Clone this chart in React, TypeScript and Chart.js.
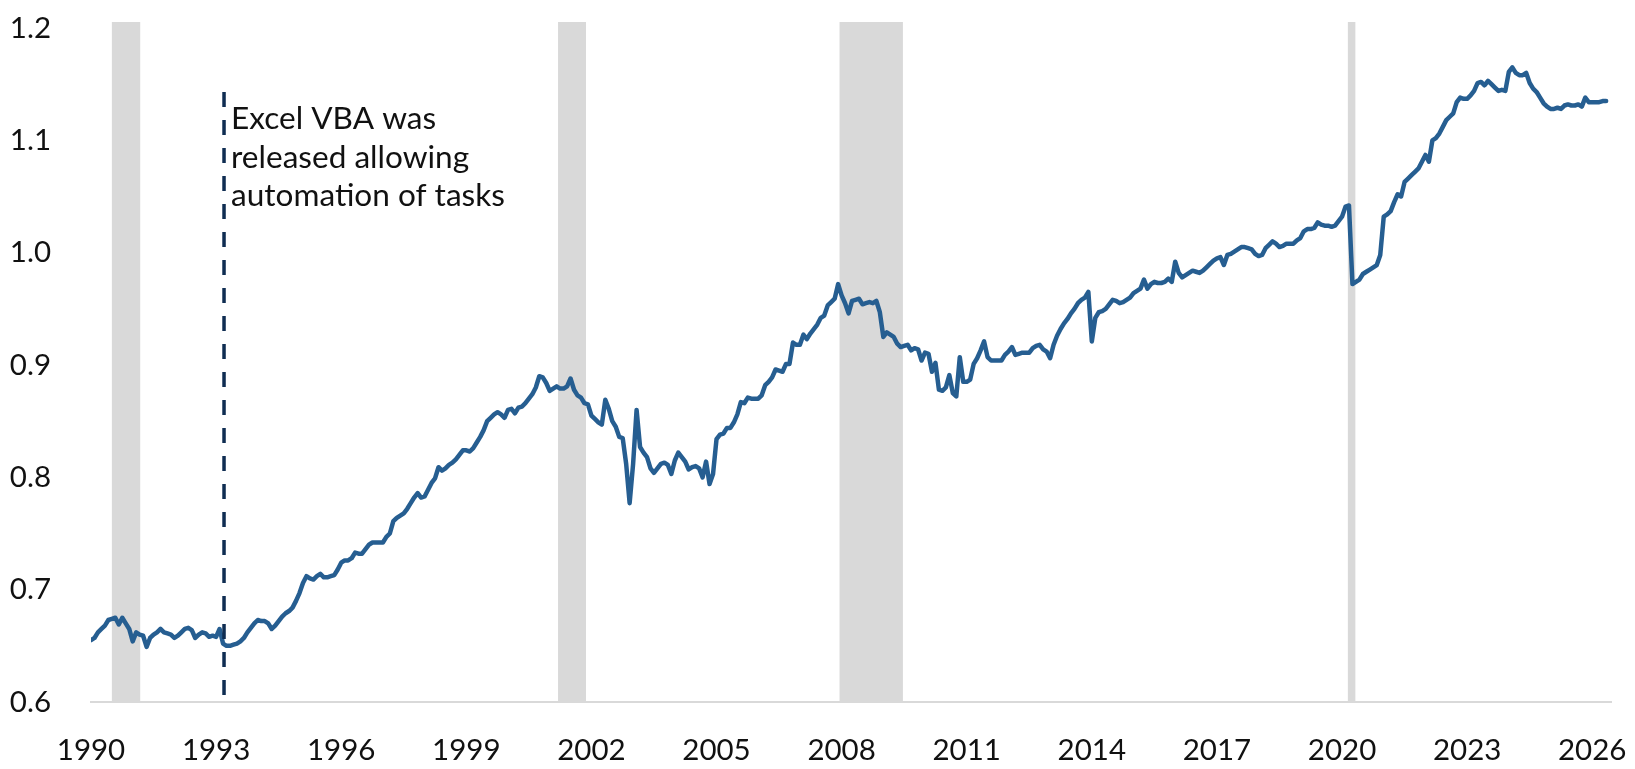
import React, { useEffect, useRef } from "react";
import { Chart, registerables } from "chart.js";

Chart.register(...registerables);

// ---- Data (monthly, Jan of startYear onward) ----
const startYear = 1990;
const v1990 = [0.655, 0.657, 0.662, 0.665, 0.668, 0.673, 0.674, 0.675, 0.669, 0.675, 0.670, 0.665];
const v1991 = [0.654, 0.662, 0.660, 0.659, 0.649, 0.657, 0.660, 0.662, 0.665, 0.662, 0.661, 0.660];
const v1992 = [0.657, 0.659, 0.662, 0.665, 0.666, 0.664, 0.657, 0.660, 0.662, 0.661, 0.658, 0.659];
const v1993 = [0.658, 0.665, 0.652, 0.650, 0.650, 0.651, 0.652, 0.654, 0.657, 0.662, 0.666, 0.670];
const v1994 = [0.673, 0.672, 0.672, 0.670, 0.665, 0.668, 0.672, 0.676, 0.679, 0.681, 0.684, 0.690];
const v1995 = [0.697, 0.706, 0.712, 0.710, 0.709, 0.712, 0.714, 0.711, 0.711, 0.712, 0.713, 0.718];
const v1996 = [0.724, 0.726, 0.726, 0.728, 0.733, 0.732, 0.732, 0.736, 0.740, 0.742, 0.742, 0.742];
const v1997 = [0.742, 0.747, 0.750, 0.761, 0.764, 0.766, 0.768, 0.772, 0.777, 0.782, 0.786, 0.782];
const v1998 = [0.783, 0.789, 0.795, 0.799, 0.809, 0.806, 0.808, 0.811, 0.813, 0.816, 0.820, 0.824];
const v1999 = [0.824, 0.823, 0.826, 0.831, 0.836, 0.842, 0.850, 0.853, 0.856, 0.858, 0.856, 0.853];
const v2000 = [0.860, 0.861, 0.857, 0.862, 0.863, 0.866, 0.870, 0.874, 0.880, 0.890, 0.889, 0.884];
const v2001 = [0.877, 0.879, 0.881, 0.879, 0.879, 0.881, 0.888, 0.878, 0.873, 0.871, 0.866, 0.865];
const v2002 = [0.855, 0.852, 0.849, 0.847, 0.869, 0.861, 0.850, 0.845, 0.836, 0.835, 0.812, 0.777];
const v2003 = [0.812, 0.860, 0.827, 0.822, 0.818, 0.808, 0.804, 0.808, 0.812, 0.813, 0.811, 0.803];
const v2004 = [0.815, 0.822, 0.818, 0.814, 0.807, 0.809, 0.810, 0.808, 0.800, 0.814, 0.794, 0.803];
const v2005 = [0.834, 0.838, 0.839, 0.844, 0.844, 0.849, 0.856, 0.867, 0.866, 0.871, 0.870, 0.870];
const v2006 = [0.870, 0.873, 0.882, 0.885, 0.889, 0.896, 0.895, 0.894, 0.901, 0.901, 0.920, 0.918];
const v2007 = [0.918, 0.927, 0.923, 0.928, 0.932, 0.936, 0.942, 0.944, 0.953, 0.956, 0.959, 0.972];
const v2008 = [0.962, 0.955, 0.946, 0.957, 0.958, 0.959, 0.954, 0.955, 0.956, 0.955, 0.957, 0.947];
const v2009 = [0.925, 0.929, 0.927, 0.925, 0.919, 0.916, 0.917, 0.918, 0.913, 0.915, 0.914, 0.904];
const v2010 = [0.911, 0.910, 0.894, 0.902, 0.878, 0.877, 0.880, 0.891, 0.875, 0.872, 0.907, 0.885];
const v2011 = [0.885, 0.887, 0.901, 0.906, 0.913, 0.921, 0.907, 0.904, 0.904, 0.904, 0.904, 0.909];
const v2012 = [0.912, 0.916, 0.909, 0.910, 0.911, 0.911, 0.911, 0.915, 0.917, 0.918, 0.914, 0.912];
const v2013 = [0.906, 0.918, 0.926, 0.932, 0.937, 0.941, 0.946, 0.950, 0.955, 0.958, 0.960, 0.965];
const v2014 = [0.921, 0.942, 0.947, 0.948, 0.950, 0.954, 0.958, 0.957, 0.955, 0.956, 0.958, 0.960];
const v2015 = [0.964, 0.966, 0.968, 0.976, 0.968, 0.972, 0.974, 0.973, 0.973, 0.974, 0.977, 0.974];
const v2016 = [0.992, 0.982, 0.978, 0.980, 0.982, 0.984, 0.983, 0.982, 0.984, 0.987, 0.990, 0.993];
const v2017 = [0.995, 0.996, 0.989, 0.998, 0.999, 1.001, 1.003, 1.005, 1.005, 1.004, 1.003, 0.999];
const v2018 = [0.997, 0.998, 1.004, 1.007, 1.010, 1.008, 1.005, 1.006, 1.008, 1.008, 1.008, 1.011];
const v2019 = [1.013, 1.019, 1.021, 1.021, 1.022, 1.027, 1.025, 1.024, 1.024, 1.023, 1.024, 1.028];
const v2020 = [1.032, 1.041, 1.042, 0.972, 0.974, 0.976, 0.981, 0.983, 0.985, 0.987, 0.989, 0.998];
const v2021 = [1.032, 1.034, 1.037, 1.045, 1.052, 1.050, 1.063, 1.066, 1.069, 1.072, 1.075, 1.081];
const v2022 = [1.087, 1.081, 1.100, 1.102, 1.106, 1.112, 1.118, 1.121, 1.124, 1.134, 1.138, 1.137];
const v2023 = [1.137, 1.140, 1.144, 1.151, 1.152, 1.149, 1.153, 1.150, 1.147, 1.144, 1.145, 1.144];
const v2024 = [1.161, 1.165, 1.160, 1.158, 1.158, 1.160, 1.151, 1.146, 1.143, 1.138, 1.133, 1.130];
const v2025 = [1.128, 1.128, 1.129, 1.128, 1.131, 1.132, 1.131, 1.131, 1.132, 1.130, 1.138, 1.134];
const v2026 = [1.134, 1.134, 1.134, 1.135, 1.135];

const valuesByYear = [
  v1990, v1991, v1992, v1993, v1994, v1995, v1996, v1997, v1998, v1999,
  v2000, v2001, v2002, v2003, v2004, v2005, v2006, v2007, v2008, v2009,
  v2010, v2011, v2012, v2013, v2014, v2015, v2016, v2017, v2018, v2019,
  v2020, v2021, v2022, v2023, v2024, v2025, v2026,
];

const xTickYears = [1990, 1993, 1996, 1999, 2002, 2005, 2008, 2011, 2014, 2017, 2020, 2023, 2026];
const yTickValues = [0.6, 0.7, 0.8, 0.9, 1.0, 1.1, 1.2];

// Recession periods (decimal years)
const recessionStarts = [1990.5, 2001.2, 2007.95, 2020.14];
const recessionEnds = [1991.18, 2001.87, 2009.47, 2020.32];

const eventYear = 1993.19;
const eventLabelLines = ["Excel VBA was", "released allowing", "automation of tasks"];

const FONT = "Lato, 'Open Sans', sans-serif";
const LINE_COLOR = "#265e91";
const BAND_COLOR = "#d9d9d9";
const DASH_COLOR = "#0f2d52";
const TEXT_COLOR = "#111111";

export default function App() {
  const canvasRef = useRef<HTMLCanvasElement | null>(null);

  useEffect(() => {
    document.body.style.margin = "0";
    const canvas = canvasRef.current;
    if (!canvas) return;

    const points = valuesByYear.flatMap((arr, i) =>
      arr.map((v, m) => ({ x: startYear + i + m / 12, y: v }))
    );

    const bandsPlugin = {
      id: "recessionBands",
      beforeDraw(chart: any) {
        const { ctx, chartArea, scales } = chart;
        const xs = scales.x;
        ctx.save();
        ctx.fillStyle = BAND_COLOR;
        for (let i = 0; i < recessionStarts.length; i++) {
          const x0 = xs.getPixelForValue(recessionStarts[i]);
          const x1 = xs.getPixelForValue(recessionEnds[i]);
          ctx.fillRect(x0, chartArea.top - 6, x1 - x0, chartArea.bottom - chartArea.top + 6);
        }
        ctx.restore();
      },
    };

    const annotationPlugin = {
      id: "eventAnnotation",
      afterDatasetsDraw(chart: any) {
        const { ctx, chartArea, scales } = chart;
        const x = scales.x.getPixelForValue(eventYear);
        const yTop = scales.y.getPixelForValue(1.143);
        ctx.save();
        ctx.strokeStyle = DASH_COLOR;
        ctx.lineWidth = 3.5;
        ctx.setLineDash([15, 13]);
        ctx.beginPath();
        ctx.moveTo(x, yTop);
        ctx.lineTo(x, chartArea.bottom);
        ctx.stroke();
        ctx.setLineDash([]);

        // fit font so the longest line has the reference width
        ctx.font = `100px ${FONT}`;
        const w = ctx.measureText(eventLabelLines[2]).width;
        const size = (100 * 274) / w;
        ctx.font = `${size.toFixed(2)}px ${FONT}`;
        ctx.fillStyle = TEXT_COLOR;
        ctx.textAlign = "left";
        ctx.textBaseline = "middle";
        const y0 = scales.y.getPixelForValue(1.119);
        eventLabelLines.forEach((line, i) => {
          ctx.fillText(line, x + 7, y0 + i * 38.5);
        });
        ctx.restore();
      },
    };

    const chart = new Chart(canvas, {
      type: "line",
      data: {
        datasets: [
          {
            data: points,
            borderColor: LINE_COLOR,
            backgroundColor: LINE_COLOR,
            borderWidth: 4.5,
            pointRadius: 0,
            tension: 0,
            borderJoinStyle: "round",
            borderCapStyle: "round",
            fill: false,
          },
        ],
      },
      options: {
        responsive: false,
        animation: false,
        layout: { padding: { top: 28, right: 24, left: 0, bottom: 0 } },
        plugins: {
          legend: { display: false },
          tooltip: { enabled: false },
        },
        scales: {
          x: {
            type: "linear",
            min: 1990,
            max: 2026.45,
            afterBuildTicks: (s: any) => {
              s.ticks = xTickYears.map((v) => ({ value: v }));
            },
            afterFit: (s: any) => {
              s.height = 67;
              s.paddingLeft = 0;
              s.paddingRight = 0;
            },
            grid: { display: false, drawTicks: false },
            border: { display: true, color: BAND_COLOR, width: 2 },
            ticks: {
              autoSkip: false,
              maxRotation: 0,
              padding: 31,
              color: TEXT_COLOR,
              font: { family: FONT, size: 29.5 },
              callback: (v: any) => String(v),
            },
          },
          y: {
            min: 0.6,
            max: 1.2,
            afterBuildTicks: (s: any) => {
              s.ticks = yTickValues.map((v) => ({ value: v }));
            },
            afterFit: (s: any) => {
              s.width = 91;
              s.paddingTop = 0;
              s.paddingBottom = 0;
            },
            grid: { display: false, drawTicks: false },
            border: { display: false },
            ticks: {
              padding: 40,
              color: TEXT_COLOR,
              font: { family: FONT, size: 29.5 },
              callback: (v: any) => Number(v).toFixed(1),
            },
          },
        },
      },
      plugins: [bandsPlugin, annotationPlugin],
    });

    return () => chart.destroy();
  }, []);

  return <canvas ref={canvasRef} width={1635} height={769} style={{ display: "block" }} />;
}
